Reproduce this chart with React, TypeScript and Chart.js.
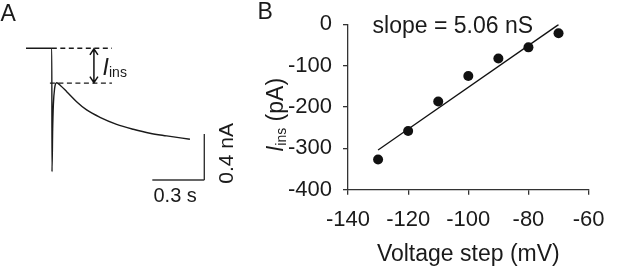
import React, { useEffect, useRef } from "react";
import { Chart, registerables } from "chart.js";

Chart.register(...registerables);

const FONT = '"Liberation Sans", Arial, Helvetica, sans-serif';
const INK = "#1a1a1a";
const AXIS = "#333333";

// ---------- Panel A: current trace (time in s, current in nA) ----------
const traceTime = [0, 0.149, 0.15, 0.154, 0.158, 0.165, 0.177, 0.2, 0.235, 0.292, 0.35, 0.427, 0.523, 0.619, 0.715, 0.812, 0.946];
const traceCurrent = [0, 0, -1.073, -0.7, -0.49, -0.35, -0.3, -0.325, -0.377, -0.464, -0.536, -0.6, -0.661, -0.704, -0.739, -0.762, -0.791];

// dashed reference levels (baseline and I_ins level)
const dashTopTime = [0.149, 0.496];
const dashTopCurrent = [0, 0];
const dashBottomTime = [0.138, 0.496];
const dashBottomCurrent = [-0.303, -0.303];

// double arrow for I_ins
const arrowTime = [0.392, 0.392];
const arrowCurrent = [0, -0.303];

// scale bars: 0.3 s and 0.4 nA
const timeBarTime = [0.729, 1.029];
const timeBarCurrent = [-1.145, -1.145];
const currentBarTime = [1.029, 1.029];
const currentBarCurrent = [-1.145, -0.745];

// ---------- Panel B: I_ins vs voltage step ----------
const voltageSteps = [-130, -120, -110, -100, -90, -80, -70];
const insCurrents = [-327, -258, -187, -125, -83, -56, -22];
const fitVoltage = [-130, -70];
const fitCurrent = [-304, -1];
const xTickValues = [-140, -120, -100, -80, -60];
const yTickValues = [-400, -300, -200, -100, 0];
const slopeLabel = "slope = 5.06 nS";

const pts = (xs: number[], ys: number[]) => xs.map((x, i) => ({ x, y: ys[i] }));

const panelAPlugin = {
  id: "panelAText",
  afterDatasetsDraw(chart: any) {
    const ctx = chart.ctx as CanvasRenderingContext2D;
    const xs = chart.scales.x;
    const ys = chart.scales.y;
    ctx.save();
    ctx.fillStyle = INK;
    ctx.textBaseline = "alphabetic";
    ctx.textAlign = "left";
    ctx.font = `23px ${FONT}`;
    ctx.fillText("A", 0.5, 20.5);

    // arrow
    const ax = xs.getPixelForValue(arrowTime[0]);
    const ay1 = ys.getPixelForValue(arrowCurrent[0]);
    const ay2 = ys.getPixelForValue(arrowCurrent[1]);
    ctx.strokeStyle = "#111";
    ctx.lineWidth = 1.5;
    ctx.beginPath();
    ctx.moveTo(ax, ay1 + 0.5);
    ctx.lineTo(ax, ay2 - 0.5);
    ctx.moveTo(ax - 4, ay1 + 6.5);
    ctx.lineTo(ax, ay1 + 0.5);
    ctx.lineTo(ax + 4, ay1 + 6.5);
    ctx.moveTo(ax - 4, ay2 - 6.5);
    ctx.lineTo(ax, ay2 - 0.5);
    ctx.lineTo(ax + 4, ay2 - 6.5);
    ctx.stroke();

    // I_ins label
    ctx.font = `italic 23px ${FONT}`;
    ctx.fillText("I", 102.5, 75);
    ctx.font = `14px ${FONT}`;
    ctx.fillText("ins", 109, 76.7);

    // scale bar labels
    ctx.font = `20px ${FONT}`;
    ctx.fillText("0.3 s", 153.5, 201.7);
    ctx.save();
    ctx.translate(233.3, 153.3);
    ctx.rotate(-Math.PI / 2);
    ctx.textAlign = "center";
    ctx.font = `21px ${FONT}`;
    ctx.fillText("0.4 nA", 0, 0);
    ctx.restore();
    ctx.restore();
  },
};

const panelBPlugin = {
  id: "panelBText",
  afterDraw(chart: any) {
    const ctx = chart.ctx as CanvasRenderingContext2D;
    ctx.save();
    ctx.fillStyle = INK;
    ctx.textBaseline = "alphabetic";
    ctx.textAlign = "left";
    ctx.font = `23px ${FONT}`;
    ctx.fillText("B", 257.5, 18.5);
    ctx.font = `23px ${FONT}`;
    ctx.fillText(slopeLabel, 372.6, 33.3);

    // y-axis title: I_ins (pA)
    const italic = `italic 23px ${FONT}`;
    const sub = `14px ${FONT}`;
    const main = `23px ${FONT}`;
    ctx.font = italic;
    const wI = ctx.measureText("I").width;
    ctx.font = sub;
    const wS = ctx.measureText("ins").width;
    ctx.font = main;
    const wU = ctx.measureText(" (pA)").width;
    const total = wI + wS + wU;
    ctx.translate(282.5, 115 + total / 2);
    ctx.rotate(-Math.PI / 2);
    ctx.font = italic;
    ctx.fillText("I", 0, 0);
    ctx.font = sub;
    ctx.fillText("ins", wI, 3);
    ctx.font = main;
    ctx.fillText(" (pA)", wI + wS, 0);
    ctx.restore();
  },
};

export default function App() {
  const aRef = useRef<HTMLCanvasElement>(null);
  const bRef = useRef<HTMLCanvasElement>(null);

  useEffect(() => {
    Chart.defaults.font.family = FONT;
    const lineDs = (xs: number[], ys: number[], extra: any = {}) => ({
      data: pts(xs, ys),
      showLine: true,
      pointRadius: 0,
      borderColor: INK,
      borderWidth: 1.5,
      fill: false,
      ...extra,
    });

    const chartA = new Chart(aRef.current!, {
      type: "scatter",
      data: {
        datasets: [
          lineDs(traceTime, traceCurrent, { borderWidth: 1.4, cubicInterpolationMode: "monotone" }),
          lineDs(dashTopTime, dashTopCurrent, { borderDash: [5, 3.5], borderWidth: 1.4 }),
          lineDs(dashBottomTime, dashBottomCurrent, { borderDash: [5, 3.5], borderWidth: 1.4 }),
          lineDs(timeBarTime, timeBarCurrent, { borderColor: AXIS, borderWidth: 1.4 }),
          lineDs(currentBarTime, currentBarCurrent, { borderColor: AXIS, borderWidth: 1.4 }),
        ],
      },
      options: {
        responsive: false,
        animation: false,
        events: [],
        layout: { padding: 0 },
        plugins: { legend: { display: false }, tooltip: { enabled: false } },
        scales: {
          x: { type: "linear", display: false, min: -0.15, max: 1.235 },
          y: { type: "linear", display: false, min: -1.9017, max: 0.42 },
        },
      },
      plugins: [panelAPlugin],
    } as any);

    const tickFont = { family: FONT, size: 22 };
    const chartB = new Chart(bRef.current!, {
      type: "scatter",
      data: {
        datasets: [
          {
            data: pts(voltageSteps, insCurrents),
            pointRadius: 5,
            pointBackgroundColor: "#111",
            pointBorderColor: "#111",
            pointBorderWidth: 0,
            showLine: false,
          },
          lineDs(fitVoltage, fitCurrent, { borderColor: "#111", borderWidth: 1.3 }),
        ],
      },
      options: {
        responsive: false,
        animation: false,
        events: [],
        layout: { padding: { left: 0, right: 16.3, top: 23.3, bottom: 0 } },
        plugins: { legend: { display: false }, tooltip: { enabled: false } },
        scales: {
          x: {
            type: "linear",
            min: xTickValues[0],
            max: xTickValues[xTickValues.length - 1],
            afterFit: (s: any) => {
              s.height = 77.3;
            },
            afterBuildTicks: (s: any) => {
              s.ticks = xTickValues.map((v) => ({ value: v }));
            },
            ticks: { padding: 12.5, font: tickFont, color: INK },
            grid: { drawOnChartArea: false, tickLength: 5, color: AXIS, lineWidth: 1.3 },
            border: { color: AXIS, width: 1.3 },
            title: {
              display: true,
              text: "Voltage step (mV)",
              font: { family: FONT, size: 23, lineHeight: 1.1 },
              padding: 0,
              color: INK,
            },
          },
          y: {
            type: "linear",
            min: yTickValues[0],
            max: yTickValues[yTickValues.length - 1],
            afterFit: (s: any) => {
              s.width = 348;
            },
            afterBuildTicks: (s: any) => {
              s.ticks = yTickValues.map((v) => ({ value: v }));
            },
            ticks: { padding: 11, font: tickFont, color: INK },
            grid: { drawOnChartArea: false, tickLength: 5, color: AXIS, lineWidth: 1.3 },
            border: { color: AXIS, width: 1.3 },
          },
        },
      },
      plugins: [panelBPlugin],
    } as any);

    return () => {
      chartA.destroy();
      chartB.destroy();
    };
  }, []);

  return (
    <div style={{ position: "fixed", left: 0, top: 0, width: 617, height: 267, background: "#fff" }}>
      <canvas
        ref={aRef}
        width={240}
        height={267}
        style={{ position: "absolute", left: 0, top: 0, width: 240, height: 267 }}
      />
      <canvas
        ref={bRef}
        width={617}
        height={267}
        style={{ position: "absolute", left: 0, top: 0, width: 617, height: 267 }}
      />
    </div>
  );
}
